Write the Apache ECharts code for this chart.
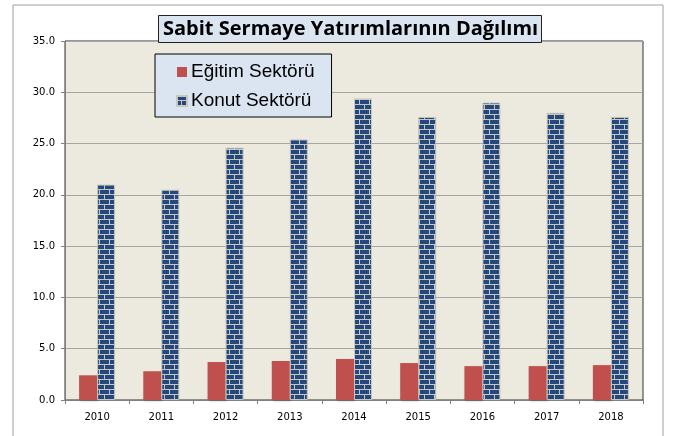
<!DOCTYPE html>
<html>
<head>
<meta charset="utf-8">
<script src="https://cdn.jsdelivr.net/npm/echarts@6/dist/echarts.min.js"></script>
<style>
  html, body { margin: 0; padding: 0; background: #fff; }
  #main { width: 680px; height: 436px; }
</style>
</head>
<body>
<div id="main"></div>
<script>
var years = ['2010', '2011', '2012', '2013', '2014', '2015', '2016', '2017', '2018'];
var egitim = [2.4, 2.8, 3.7, 3.8, 4.0, 3.6, 3.3, 3.3, 3.4];
var konut = [21.0, 20.5, 24.6, 25.4, 29.4, 27.6, 29.0, 28.0, 27.6];

// brick pattern for Konut
function brick() {
    var c = document.createElement('canvas');
    c.width = 10;
    c.height = 10;
    var ctx = c.getContext('2d');
    ctx.fillStyle = '#c9c6bb';
    ctx.fillRect(0, 0, 10, 10);
    ctx.fillStyle = '#22487f';
    ctx.fillRect(0, 0, 9, 4);
    ctx.fillRect(0, 5, 4, 4);
    ctx.fillRect(5, 5, 5, 4);
    return c;
}

var myChart = echarts.init(document.getElementById('main'));
myChart.setOption({
    backgroundColor: '#fff',
    animation: false,
    title: {
        text: 'Sabit Sermaye Yatırımlarının Dağılımı',
        left: 158,
        top: 15,
        padding: [4, 4, 4, 5],
        backgroundColor: '#dbe5f1',
        borderColor: '#222',
        borderWidth: 1,
        borderRadius: 0,
        textStyle: {
            fontFamily: 'Open Sans',
            fontWeight: 'bold',
            fontSize: 20,
            color: '#000'
        }
    },
    legend: {
        orient: 'vertical',
        left: 155,
        top: 54,
        padding: [8, 17, 6, 21],
        itemGap: 9,
        itemWidth: 10,
        itemHeight: 10,
        backgroundColor: '#dbe5f1',
        borderColor: '#000',
        borderWidth: 1,
        borderRadius: 0,
        textStyle: {
            fontFamily: 'Liberation Sans',
            fontSize: 19,
            lineHeight: 20,
            color: '#000',
            padding: [0, 0, 0, -1]
        },
        data: [
            { name: 'Eğitim Sektörü', icon: 'rect' },
            { name: 'Konut Sektörü', icon: 'rect' }
        ]
    },
    grid: {
        left: 65,
        right: 37,
        top: 41,
        bottom: 36,
        show: true,
        backgroundColor: '#ece9df',
        borderColor: '#333',
        borderWidth: 1
    },
    xAxis: {
        type: 'category',
        data: years,
        axisLine: { lineStyle: { color: '#808080' } },
        axisTick: { show: true, length: 4, lineStyle: { color: '#808080' } },
        axisLabel: {
            fontFamily: 'DejaVu Sans',
            fontSize: 10,
            color: '#000',
            margin: 12
        }
    },
    yAxis: {
        type: 'value',
        min: 0,
        max: 35,
        interval: 5,
        axisLine: { show: true, lineStyle: { color: '#808080' } },
        axisTick: { show: true, length: 4, lineStyle: { color: '#808080' } },
        axisLabel: {
            fontFamily: 'DejaVu Sans',
            fontSize: 10,
            color: '#000',
            margin: 10,
            formatter: function (v) { return v.toFixed(1); }
        },
        splitLine: { lineStyle: { color: '#a6a6a6', width: 1 } }
    },
    graphic: [{
        type: 'rect',
        shape: { x: 13, y: 5, width: 650, height: 440 },
        style: { fill: 'none', stroke: '#a0a0a0', lineWidth: 1 },
        z: -1
    }],
    series: [{
        name: 'Eğitim Sektörü',
        type: 'bar',
        data: egitim,
        barWidth: 18,
        barGap: '0%',
        itemStyle: {
            color: '#c0504d',
            shadowColor: 'rgba(0,0,0,0.25)',
            shadowBlur: 2,
            shadowOffsetX: 1,
            shadowOffsetY: 1
        }
    }, {
        name: 'Konut Sektörü',
        type: 'bar',
        data: konut,
        barWidth: 18,
        itemStyle: {
            color: { image: brick(), repeat: 'repeat' },
            borderColor: '#c9c6bb',
            borderWidth: 1
        }
    }]
});
</script>
</body>
</html>
